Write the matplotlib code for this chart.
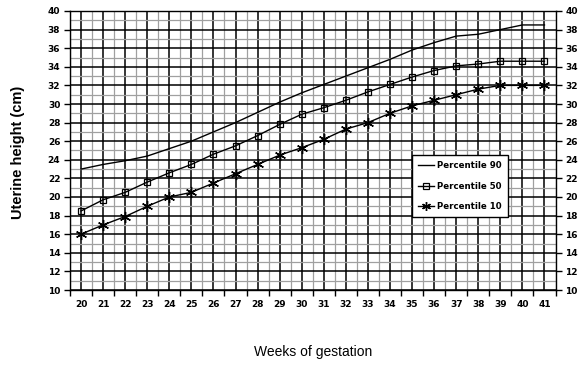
import matplotlib
matplotlib.use("Agg")
import matplotlib.pyplot as plt

weeks = list(range(20, 42))
p90 = [23.0, 23.5, 23.9, 24.4, 25.2, 26.0, 27.0, 28.0, 29.1, 30.2, 31.2,
       32.1, 33.0, 33.9, 34.8, 35.8, 36.6, 37.3, 37.5, 38.0, 38.5, 38.5]
p50 = [18.5, 19.7, 20.5, 21.6, 22.6, 23.5, 24.6, 25.5, 26.6, 27.8, 28.9,
       29.6, 30.4, 31.3, 32.1, 32.9, 33.6, 34.1, 34.3, 34.6, 34.6, 34.6]
p10 = [16.0, 17.0, 17.9, 19.0, 20.0, 20.5, 21.5, 22.5, 23.5, 24.5, 25.3,
       26.2, 27.3, 28.0, 29.0, 29.8, 30.4, 31.0, 31.6, 32.0, 32.0, 32.0]
y_ticks = list(range(10, 41, 2))

fig = plt.figure(figsize=(5.84, 3.65), dpi=100)
ax = fig.add_axes([70 / 584, 75 / 365, 485.5 / 584, 279 / 365])

x = list(range(len(weeks)))
ax.plot(x, p90, color='black', lw=1, label='Percentile 90', zorder=3)
ax.plot(x, p50, color='black', lw=1, marker='s', markersize=5,
        markerfacecolor='none', markeredgewidth=0.9, label='Percentile 50', zorder=3)
ax.plot(x, p10, color='black', lw=1, marker=(6, 2, 0), markersize=8,
        markeredgewidth=1, label='Percentile 10', zorder=3)

ax.set_xlim(-0.5, len(weeks) - 0.5)
ax.set_ylim(10, 40)

# x: labels at week centres (black grid), ticks at boundaries (grey grid)
ax.set_xticks(x)
ax.set_xticklabels([str(w) for w in weeks])
ax.set_xticks([i - 0.5 for i in range(len(weeks) + 1)], minor=True)
# y: labelled even values (black grid), odd values grey
ax.set_yticks(y_ticks)
ax.set_yticks(list(range(11, 40, 2)), minor=True)

ax.grid(which='minor', color='#a0a0a0', lw=0.9, zorder=1)
ax.grid(which='major', color='black', lw=1.1, zorder=2)
ax.set_axisbelow(True)

ax.tick_params(axis='x', which='major', length=0, pad=7)
ax.tick_params(axis='x', which='minor', length=4, width=1, direction='out')
ax.tick_params(axis='y', which='major', length=4, width=1, direction='out',
               left=True, right=True, labelleft=True, labelright=True, pad=3)
ax.tick_params(axis='y', which='minor', length=0)
for lab in ax.get_xticklabels() + ax.get_yticklabels():
    lab.set_fontsize(6.5)
    lab.set_fontweight('bold')
for s in ax.spines.values():
    s.set_color('black')
    s.set_linewidth(1)

fig.text(18 / 584, 1 - 152 / 365, 'Uterine height (cm)', rotation=90,
         ha='center', va='center', fontsize=10.5, fontweight='bold',
         family='Liberation Sans')
fig.text(313 / 584, 1 - 352 / 365, 'Weeks of gestation', ha='center',
         va='center', fontsize=10, family='Liberation Sans')

leg = ax.legend(loc='upper left', bbox_to_anchor=(342 / 485.5, 1 - 144 / 279),
                borderaxespad=0, frameon=True, fancybox=False,
                edgecolor='black', framealpha=1,
                prop={'size': 6.2, 'weight': 'bold'}, handlelength=1.8,
                handletextpad=0.4, labelspacing=1.3, borderpad=0.75,
                markerscale=0.8)
leg.get_frame().set_linewidth(1)

fig.savefig('out.png', dpi=100)
